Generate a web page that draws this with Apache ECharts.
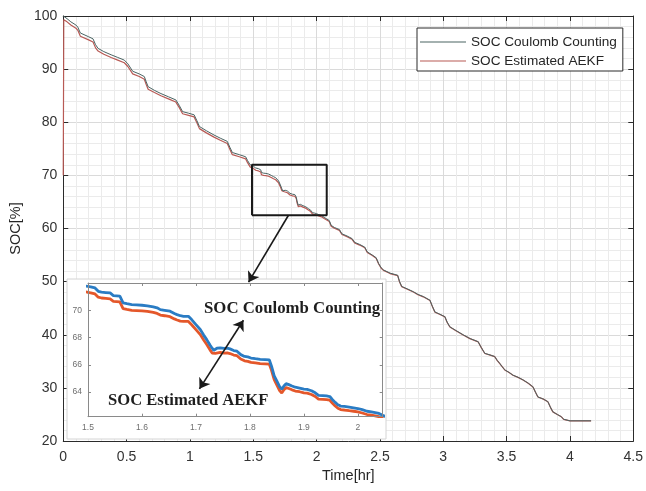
<!DOCTYPE html>
<html>
<head>
<meta charset="utf-8">
<script src="https://cdn.jsdelivr.net/npm/echarts@6/dist/echarts.min.js"></script>
<style>
  html, body { margin: 0; padding: 0; background: #ffffff; }
  #chart { width: 646px; height: 491px; }
</style>
</head>
<body>
<div id="chart"></div>
<script>
// Discharge test: state of charge over time, Coulomb counting vs. adaptive EKF estimate
const timeHr = [
  0.000, 0.004, 0.030, 0.060, 0.100, 0.115, 0.135, 0.150, 0.200, 0.235,
  0.255, 0.275, 0.320, 0.378, 0.430, 0.482, 0.510, 0.548, 0.600, 0.640,
  0.655, 0.670, 0.720, 0.771, 0.830, 0.889, 0.915, 0.942, 0.990, 1.033,
  1.055, 1.075, 1.130, 1.190, 1.240, 1.295, 1.315, 1.335, 1.390, 1.440,
  1.455, 1.475, 1.490, 1.500, 1.505, 1.513, 1.519, 1.525, 1.533, 1.541,
  1.547, 1.553, 1.559, 1.565, 1.572, 1.581, 1.590, 1.600, 1.610, 1.621,
  1.628, 1.634, 1.642, 1.652, 1.660, 1.665, 1.671, 1.677, 1.686, 1.692,
  1.700, 1.708, 1.714, 1.720, 1.726, 1.730, 1.733, 1.736, 1.739, 1.745,
  1.752, 1.758, 1.763, 1.770, 1.776, 1.783, 1.790, 1.796, 1.802, 1.810,
  1.819, 1.828, 1.836, 1.840, 1.845, 1.850, 1.855, 1.859, 1.863, 1.867,
  1.872, 1.878, 1.884, 1.892, 1.900, 1.906, 1.914, 1.921, 1.927, 1.935,
  1.942, 1.948, 1.953, 1.958, 1.963, 1.968, 1.975, 1.984, 1.992, 2.000,
  2.008, 2.017, 2.025, 2.032, 2.039, 2.046, 2.060, 2.080, 2.100, 2.115,
  2.140, 2.180, 2.200, 2.240, 2.280, 2.300, 2.340, 2.380, 2.400, 2.440,
  2.470, 2.490, 2.510, 2.528, 2.580, 2.640, 2.655, 2.672, 2.720, 2.764,
  2.800, 2.842, 2.895, 2.915, 2.934, 2.970, 3.013, 3.030, 3.052, 3.100,
  3.157, 3.210, 3.275, 3.300, 3.328, 3.370, 3.406, 3.425, 3.446, 3.465,
  3.485, 3.520, 3.550, 3.590, 3.630, 3.670, 3.708, 3.728, 3.747, 3.790,
  3.826, 3.845, 3.865, 3.900, 3.931, 3.950, 3.965, 4.000, 4.167
];

const socCoulomb = [
  100.0, 99.9, 99.5, 98.9, 98.3, 97.9, 96.8, 96.5, 96.1, 95.7,
  94.6, 93.9, 93.3, 92.7, 92.2, 91.7, 91.0, 89.6, 89.1, 88.6,
  87.6, 86.7, 86.0, 85.4, 84.8, 84.2, 83.2, 82.0, 81.7, 81.4,
  80.3, 79.2, 78.4, 77.6, 77.0, 76.4, 75.3, 74.3, 73.9, 73.5,
  72.8, 72.0, 71.8, 71.75, 71.72, 71.64, 71.39, 71.33, 71.30, 71.27,
  71.08, 71.06, 71.04, 70.54, 70.48, 70.42, 70.40, 70.37, 70.33, 70.25,
  70.18, 70.05, 70.00, 69.93, 69.76, 69.68, 69.60, 69.56, 69.56, 69.32,
  68.95, 68.59, 68.20, 67.85, 67.45, 67.22, 67.07, 67.18, 67.22, 67.25,
  67.20, 67.22, 67.17, 67.05, 67.00, 66.75, 66.62, 66.58, 66.50, 66.45,
  66.40, 66.38, 66.36, 65.90, 65.20, 64.80, 64.40, 64.22, 64.45, 64.62,
  64.55, 64.45, 64.36, 64.30, 64.22, 64.20, 64.10, 63.95, 63.76, 63.74,
  63.72, 63.68, 63.45, 63.25, 63.08, 62.98, 62.95, 62.90, 62.85, 62.80,
  62.72, 62.60, 62.55, 62.50, 62.44, 62.30, 62.10, 61.80, 61.50, 60.60,
  60.20, 59.80, 59.00, 58.60, 58.10, 57.40, 57.00, 56.50, 55.60, 55.00,
  54.50, 53.40, 52.60, 52.20, 51.60, 51.20, 50.00, 49.10, 48.60, 48.10,
  47.60, 47.20, 46.50, 45.30, 44.30, 43.90, 43.40, 42.40, 41.50, 40.80,
  40.00, 39.30, 38.70, 37.60, 36.50, 36.20, 35.90, 35.20, 34.60, 34.00,
  33.40, 32.90, 32.40, 32.00, 31.50, 30.90, 30.20, 29.20, 28.30, 27.90,
  27.40, 26.40, 25.50, 25.00, 24.60, 24.10, 23.80, 23.80, 23.80
];

const socAekf = [
  70.0, 99.3, 98.9, 98.3, 97.7, 97.3, 96.2, 95.9, 95.5, 95.1,
  94.0, 93.4, 92.8, 92.2, 91.7, 91.2, 90.5, 89.1, 88.6, 88.1,
  87.1, 86.2, 85.6, 85.0, 84.4, 83.8, 82.8, 81.6, 81.3, 81.0,
  79.9, 78.8, 78.0, 77.2, 76.6, 76.0, 74.9, 73.9, 73.5, 73.1,
  72.4, 71.6, 71.4, 71.32, 71.28, 71.20, 70.96, 70.90, 70.87, 70.84,
  70.66, 70.64, 70.62, 70.12, 70.06, 70.00, 69.98, 69.95, 69.92, 69.84,
  69.77, 69.65, 69.60, 69.53, 69.37, 69.29, 69.21, 69.18, 69.18, 68.94,
  68.58, 68.22, 67.84, 67.49, 67.10, 66.87, 66.73, 66.84, 66.88, 66.91,
  66.86, 66.88, 66.83, 66.72, 66.67, 66.43, 66.30, 66.26, 66.18, 66.14,
  66.09, 66.07, 66.05, 65.60, 64.91, 64.51, 64.12, 63.94, 64.17, 64.34,
  64.27, 64.17, 64.08, 64.03, 63.95, 63.93, 63.83, 63.68, 63.49, 63.47,
  63.45, 63.41, 63.19, 62.99, 62.82, 62.72, 62.69, 62.64, 62.60, 62.55,
  62.47, 62.36, 62.31, 62.26, 62.20, 62.06, 61.88, 61.60, 61.32, 60.43,
  60.04, 59.65, 58.86, 58.46, 57.97, 57.28, 56.88, 56.39, 55.49, 54.90,
  54.40, 53.31, 52.51, 52.11, 51.52, 51.12, 49.93, 49.03, 48.53, 48.04,
  47.54, 47.14, 46.45, 45.25, 44.25, 43.85, 43.36, 42.36, 41.46, 40.76,
  39.96, 39.27, 38.67, 37.57, 36.47, 36.17, 35.87, 35.17, 34.57, 33.98,
  33.38, 32.88, 32.38, 31.98, 31.48, 30.88, 30.18, 29.18, 28.28, 27.88,
  27.38, 26.38, 25.48, 24.98, 24.58, 24.08, 23.78, 23.78, 23.78
];

// Tick values of the magnified panel
const insetTimeTicks = [1.5, 1.6, 1.7, 1.8, 1.9, 2];
const insetSocTicks = [64, 66, 68, 70];
const insetTimeRange = [1.5, 2.046];
const insetSocRange = [62.2, 72.0];

// Window on the main curve that the magnified panel shows
const zoomBoxTime = [1.49, 2.08];
const zoomBoxSoc = [62.5, 72.0];

// Pointer from the window down to the magnified panel (main axes units)
const pointerTime = [1.778, 1.463];
const pointerSoc = [62.5, 49.9];

// Double arrow linking the two curve labels (magnified panel units)
const labelArrowTime = [1.7065, 1.788];
const labelArrowSoc = [64.24, 69.27];

const NAME_CC = 'SOC Coulomb Counting';
const NAME_EKF = 'SOC Estimated AEKF';

const ccPairs = timeHr.map((t, i) => [t, socCoulomb[i]]);
const ekfPairs = timeHr.map((t, i) => [t, socAekf[i]]);

const sans = 'Liberation Sans, Arial, sans-serif';
const serif = 'Liberation Serif, Times New Roman, serif';
const frame = '#2b2b2b';
const ccColor = '#4a6463';
const ekfColor = '#b85a55';

// thin horizontal stroke used as the legend key
const legendStroke = 'path://M0,0 L100,0 L100,2.2 L0,2.2 Z';

const insetBox = { left: 88, top: 283, width: 294.7, height: 133.7 };

const chart = echarts.init(document.getElementById('chart'), null, { renderer: 'canvas' });

const mainTick = { show: true, inside: true, length: 5, lineStyle: { color: frame, width: 1 } };
const insetTick = { show: true, inside: true, length: 3, lineStyle: { color: '#8a8a8a', width: 1 } };

chart.setOption({
  animation: false,
  backgroundColor: '#ffffff',
  grid: [
    { left: 62, top: 16, right: 12, bottom: 50, containLabel: false },
    { left: insetBox.left, top: insetBox.top, width: insetBox.width, height: insetBox.height, containLabel: false }
  ],
  legend: {
    data: [
      { name: NAME_CC, icon: legendStroke, itemStyle: { color: ccColor } },
      { name: NAME_EKF, icon: legendStroke, itemStyle: { color: ekfColor } }
    ],
    orient: 'vertical',
    left: 417,
    top: 28,
    itemWidth: 46,
    itemHeight: 14,
    itemGap: 5,
    padding: [7, 6, 3, 3],
    borderColor: frame,
    borderWidth: 1,
    backgroundColor: '#ffffff',
    selectedMode: false,
    textStyle: { fontFamily: sans, fontSize: 13.6, color: '#262626' }
  },
  xAxis: [
    {
      gridIndex: 0, type: 'value', position: 'bottom', min: 0, max: 4.5, interval: 0.5,
      name: 'Time[hr]', nameLocation: 'middle', nameGap: 24,
      nameTextStyle: { fontFamily: sans, fontSize: 14.5, color: '#262626' },
      axisLine: { show: true, onZero: false, lineStyle: { color: frame, width: 1 } },
      axisTick: mainTick,
      axisLabel: { fontFamily: sans, fontSize: 14, color: '#333333', margin: 9 },
      splitLine: { show: true, lineStyle: { color: '#dadada', width: 1 } },
      minorTick: { show: false, splitNumber: 5 },
      minorSplitLine: { show: true, lineStyle: { color: '#ebebeb', width: 1 } }
    },
    {
      gridIndex: 0, type: 'value', position: 'top', min: 0, max: 4.5, interval: 0.5,
      axisLine: { show: true, onZero: false, lineStyle: { color: frame, width: 1 } },
      axisTick: mainTick, axisLabel: { show: false }, splitLine: { show: false }
    },
    {
      gridIndex: 1, type: 'value', position: 'bottom', min: insetTimeRange[0], max: insetTimeRange[1], z: 6,
      axisLine: { show: true, onZero: false, lineStyle: { color: '#8a8a8a', width: 1 } },
      axisTick: Object.assign({ customValues: insetTimeTicks }, insetTick),
      axisLabel: { customValues: insetTimeTicks, fontFamily: sans, fontSize: 8.5, color: '#6e6e6e', margin: 6 },
      splitLine: { show: false }
    },
    {
      gridIndex: 1, type: 'value', position: 'top', min: insetTimeRange[0], max: insetTimeRange[1], z: 6,
      axisLine: { show: true, onZero: false, lineStyle: { color: '#8a8a8a', width: 1 } },
      axisTick: Object.assign({ customValues: insetTimeTicks }, insetTick),
      axisLabel: { show: false }, splitLine: { show: false }
    }
  ],
  yAxis: [
    {
      gridIndex: 0, type: 'value', position: 'left', min: 20, max: 100, interval: 10,
      name: 'SOC[%]', nameLocation: 'middle', nameGap: 34,
      nameTextStyle: { fontFamily: sans, fontSize: 14.5, color: '#262626' },
      axisLine: { show: true, onZero: false, lineStyle: { color: frame, width: 1 } },
      axisTick: mainTick,
      axisLabel: { fontFamily: sans, fontSize: 14, color: '#333333', margin: 6 },
      splitLine: { show: true, lineStyle: { color: '#dadada', width: 1 } },
      minorTick: { show: false, splitNumber: 5 },
      minorSplitLine: { show: true, lineStyle: { color: '#ebebeb', width: 1 } }
    },
    {
      gridIndex: 0, type: 'value', position: 'right', min: 20, max: 100, interval: 10,
      axisLine: { show: true, onZero: false, lineStyle: { color: frame, width: 1 } },
      axisTick: mainTick, axisLabel: { show: false }, splitLine: { show: false }
    },
    {
      gridIndex: 1, type: 'value', position: 'left', min: insetSocRange[0], max: insetSocRange[1], z: 6,
      axisLine: { show: true, onZero: false, lineStyle: { color: '#8a8a8a', width: 1 } },
      axisTick: Object.assign({ customValues: insetSocTicks }, insetTick),
      axisLabel: { customValues: insetSocTicks, fontFamily: sans, fontSize: 8.5, color: '#6e6e6e', margin: 6 },
      splitLine: { show: false }
    },
    {
      gridIndex: 1, type: 'value', position: 'right', min: insetSocRange[0], max: insetSocRange[1], z: 6,
      axisLine: { show: true, onZero: false, lineStyle: { color: '#8a8a8a', width: 1 } },
      axisTick: Object.assign({ customValues: insetSocTicks }, insetTick),
      axisLabel: { show: false }, splitLine: { show: false }
    }
  ],
  graphic: [
    {
      // white backing card for the magnified panel
      type: 'rect', z: 3,
      shape: { x: 67, y: 279, width: 319, height: 160 },
      style: { fill: '#ffffff', stroke: '#d4d4d4', lineWidth: 1 }
    },
    {
      type: 'text', z: 8, left: 204, top: 300,
      style: { text: NAME_CC, fontFamily: serif, fontWeight: 'bold', fontSize: 16.8, fill: '#1e1e1e' }
    },
    {
      type: 'text', z: 8, left: 108, top: 392,
      style: { text: NAME_EKF, fontFamily: serif, fontWeight: 'bold', fontSize: 16.6, fill: '#1e1e1e' }
    }
  ],
  series: [
    {
      name: NAME_EKF, type: 'line', xAxisIndex: 0, yAxisIndex: 0, data: ekfPairs,
      symbol: 'none', showSymbol: false, z: 2, clip: false,
      lineStyle: { color: ekfColor, width: 1.2 }, itemStyle: { color: ekfColor }
    },
    {
      name: NAME_CC, type: 'line', xAxisIndex: 0, yAxisIndex: 0, data: ccPairs,
      symbol: 'none', showSymbol: false, z: 2, clip: false,
      lineStyle: { color: ccColor, width: 1 }, itemStyle: { color: ccColor }
    },
    {
      // zoom window outline
      type: 'line', xAxisIndex: 0, yAxisIndex: 0, symbol: 'none', z: 4, silent: true,
      data: [
        [zoomBoxTime[0], zoomBoxSoc[0]], [zoomBoxTime[1], zoomBoxSoc[0]],
        [zoomBoxTime[1], zoomBoxSoc[1]], [zoomBoxTime[0], zoomBoxSoc[1]],
        [zoomBoxTime[0], zoomBoxSoc[0]]
      ],
      lineStyle: { color: '#1a1a1a', width: 2 }
    },
    {
      type: 'lines', coordinateSystem: 'cartesian2d', xAxisIndex: 0, yAxisIndex: 0, z: 7, silent: true,
      symbol: ['none', 'arrow'], symbolSize: 10,
      lineStyle: { color: '#1a1a1a', width: 1.6, opacity: 1 },
      data: [{ coords: [[pointerTime[0], pointerSoc[0]], [pointerTime[1], pointerSoc[1]]] }]
    },
    {
      name: NAME_EKF + ' (zoom)', type: 'line', xAxisIndex: 2, yAxisIndex: 2, data: ekfPairs,
      symbol: 'none', showSymbol: false, z: 5, clip: true,
      lineStyle: { color: '#e4572a', width: 2.8 }
    },
    {
      name: NAME_CC + ' (zoom)', type: 'line', xAxisIndex: 2, yAxisIndex: 2, data: ccPairs,
      symbol: 'none', showSymbol: false, z: 5, clip: true,
      lineStyle: { color: '#2a7cc4', width: 2.8 }
    },
    {
      type: 'lines', coordinateSystem: 'cartesian2d', xAxisIndex: 2, yAxisIndex: 2, z: 8, silent: true,
      symbol: ['arrow', 'arrow'], symbolSize: 10,
      lineStyle: { color: '#1a1a1a', width: 1.6, opacity: 1 },
      data: [{ coords: [[labelArrowTime[0], labelArrowSoc[0]], [labelArrowTime[1], labelArrowSoc[1]]] }]
    }
  ]
});
</script>
</body>
</html>
